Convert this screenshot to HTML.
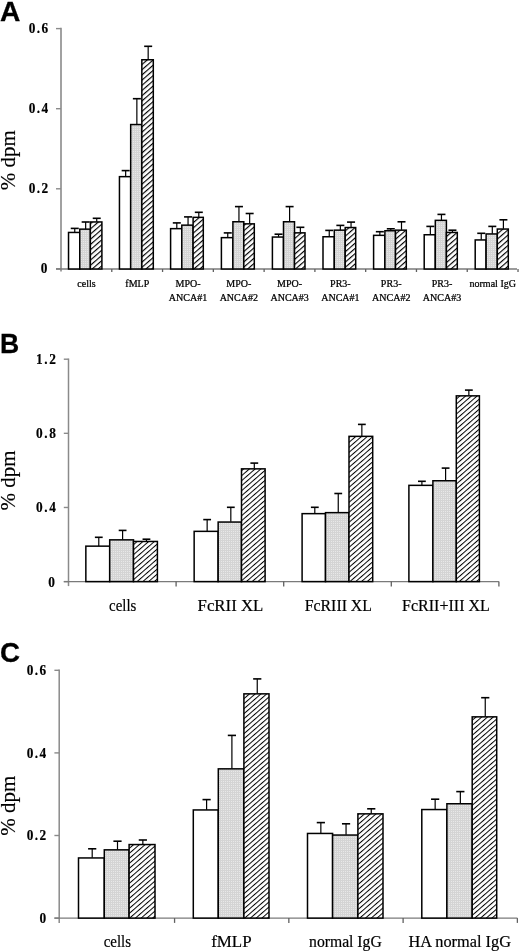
<!DOCTYPE html>
<html><head><meta charset="utf-8"><title>Figure</title>
<style>
html,body{margin:0;padding:0;background:#fff;}
body{width:520px;height:952px;position:relative;overflow:hidden;font-family:"Liberation Serif", serif;}
</style></head><body>
<svg width="520" height="952" viewBox="0 0 520 952" style="position:absolute;left:0;top:0;filter:blur(0.3px)">
<defs>
<pattern id="gA" patternUnits="userSpaceOnUse" width="2" height="2">
 <rect width="2" height="2" fill="#e8e8e8"/>
 <rect width="2" height="1" fill="#d4d4d4"/>
 <rect width="1" height="2" fill="#d4d4d4"/>
</pattern>
<pattern id="hA" patternUnits="userSpaceOnUse" width="3.924" height="10" patternTransform="rotate(49.00)">
 <rect width="10" height="10" fill="#fff"/>
 <rect width="1.15" height="10" fill="#000"/>
</pattern>
<pattern id="hB" patternUnits="userSpaceOnUse" width="3.774" height="10" patternTransform="rotate(49.00)">
 <rect width="10" height="10" fill="#fff"/>
 <rect width="1.00" height="10" fill="#000"/>
</pattern>
</defs>
<line x1="61" y1="27.8" x2="61" y2="271.5" stroke="#8a8a8a" stroke-width="1.6"/>
<line x1="56" y1="28.6" x2="61" y2="28.6" stroke="#8a8a8a" stroke-width="1.4"/>
<text transform="translate(49.6,32.5) scale(0.86,1)" text-anchor="end" font-family='"Liberation Serif", serif' font-weight="bold" font-size="15.5" letter-spacing="1.6" stroke="#000" stroke-width="0.2">0.6</text>
<line x1="56" y1="108.7" x2="61" y2="108.7" stroke="#8a8a8a" stroke-width="1.4"/>
<text transform="translate(49.6,112.6) scale(0.86,1)" text-anchor="end" font-family='"Liberation Serif", serif' font-weight="bold" font-size="15.5" letter-spacing="1.6" stroke="#000" stroke-width="0.2">0.4</text>
<line x1="56" y1="188.8" x2="61" y2="188.8" stroke="#8a8a8a" stroke-width="1.4"/>
<text transform="translate(49.6,192.7) scale(0.86,1)" text-anchor="end" font-family='"Liberation Serif", serif' font-weight="bold" font-size="15.5" letter-spacing="1.6" stroke="#000" stroke-width="0.2">0.2</text>
<line x1="56" y1="268.9" x2="61" y2="268.9" stroke="#8a8a8a" stroke-width="1.4"/>
<text transform="translate(48.7,273.3) scale(0.86,1)" text-anchor="end" font-family='"Liberation Serif", serif' font-weight="bold" font-size="15.5" letter-spacing="1.6" stroke="#000" stroke-width="0.2">0</text>
<line x1="56" y1="269" x2="517" y2="269" stroke="#7a7a7a" stroke-width="1.3"/>
<line x1="111.78" y1="269" x2="111.78" y2="272" stroke="#606060" stroke-width="1.3"/>
<line x1="162.56" y1="269" x2="162.56" y2="272" stroke="#606060" stroke-width="1.3"/>
<line x1="213.34" y1="269" x2="213.34" y2="272" stroke="#606060" stroke-width="1.3"/>
<line x1="264.12" y1="269" x2="264.12" y2="272" stroke="#606060" stroke-width="1.3"/>
<line x1="314.9" y1="269" x2="314.9" y2="272" stroke="#606060" stroke-width="1.3"/>
<line x1="365.68" y1="269" x2="365.68" y2="272" stroke="#606060" stroke-width="1.3"/>
<line x1="416.46" y1="269" x2="416.46" y2="272" stroke="#606060" stroke-width="1.3"/>
<line x1="467.24" y1="269" x2="467.24" y2="272" stroke="#606060" stroke-width="1.3"/>
<line x1="518.02" y1="269" x2="518.02" y2="272" stroke="#606060" stroke-width="1.3"/>
<rect x="68.53" y="232.45" width="11.23" height="36.55" fill="#fff" stroke="#000" stroke-width="1.5"/>
<rect x="79.76" y="229.15" width="10.6" height="39.85" fill="url(#gA)" stroke="#000" stroke-width="1.5"/>
<rect x="90.36" y="221.95" width="11.54" height="47.05" fill="url(#hA)" stroke="#000" stroke-width="1.5"/>
<line x1="74.75" y1="232.2" x2="74.75" y2="228.4" stroke="#000" stroke-width="1.2"/>
<line x1="70.75" y1="228.4" x2="78.75" y2="228.4" stroke="#000" stroke-width="1.6"/>
<line x1="85.66" y1="228.9" x2="85.66" y2="222" stroke="#000" stroke-width="1.2"/>
<line x1="81.66" y1="222" x2="89.66" y2="222" stroke="#000" stroke-width="1.6"/>
<line x1="96.73" y1="221.7" x2="96.73" y2="218.3" stroke="#000" stroke-width="1.2"/>
<line x1="92.73" y1="218.3" x2="100.73" y2="218.3" stroke="#000" stroke-width="1.6"/>
<rect x="119.45" y="176.65" width="11.23" height="92.35" fill="#fff" stroke="#000" stroke-width="1.5"/>
<rect x="130.68" y="124.55" width="11.16" height="144.45" fill="url(#gA)" stroke="#000" stroke-width="1.5"/>
<rect x="141.84" y="59.75" width="11.46" height="209.25" fill="url(#hA)" stroke="#000" stroke-width="1.5"/>
<line x1="125.66" y1="176.4" x2="125.66" y2="170.6" stroke="#000" stroke-width="1.2"/>
<line x1="121.66" y1="170.6" x2="129.66" y2="170.6" stroke="#000" stroke-width="1.6"/>
<line x1="136.86" y1="124.3" x2="136.86" y2="98.7" stroke="#000" stroke-width="1.2"/>
<line x1="132.86" y1="98.7" x2="140.86" y2="98.7" stroke="#000" stroke-width="1.6"/>
<line x1="148.17" y1="59.5" x2="148.17" y2="46.3" stroke="#000" stroke-width="1.2"/>
<line x1="144.17" y1="46.3" x2="152.17" y2="46.3" stroke="#000" stroke-width="1.6"/>
<rect x="170.6" y="228.65" width="11.2" height="40.35" fill="#fff" stroke="#000" stroke-width="1.5"/>
<rect x="181.8" y="225.15" width="11.3" height="43.85" fill="url(#gA)" stroke="#000" stroke-width="1.5"/>
<rect x="193.1" y="217.35" width="10.2" height="51.65" fill="url(#hA)" stroke="#000" stroke-width="1.5"/>
<line x1="176.8" y1="228.4" x2="176.8" y2="222.9" stroke="#000" stroke-width="1.2"/>
<line x1="172.8" y1="222.9" x2="180.8" y2="222.9" stroke="#000" stroke-width="1.6"/>
<line x1="188.05" y1="224.9" x2="188.05" y2="216.9" stroke="#000" stroke-width="1.2"/>
<line x1="184.05" y1="216.9" x2="192.05" y2="216.9" stroke="#000" stroke-width="1.6"/>
<line x1="198.8" y1="217.1" x2="198.8" y2="212.3" stroke="#000" stroke-width="1.2"/>
<line x1="194.8" y1="212.3" x2="202.8" y2="212.3" stroke="#000" stroke-width="1.6"/>
<rect x="221.4" y="237.65" width="11.5" height="31.35" fill="#fff" stroke="#000" stroke-width="1.5"/>
<rect x="232.9" y="221.75" width="10.9" height="47.25" fill="url(#gA)" stroke="#000" stroke-width="1.5"/>
<rect x="243.8" y="223.85" width="10.5" height="45.15" fill="url(#hA)" stroke="#000" stroke-width="1.5"/>
<line x1="227.75" y1="237.4" x2="227.75" y2="232.9" stroke="#000" stroke-width="1.2"/>
<line x1="223.75" y1="232.9" x2="231.75" y2="232.9" stroke="#000" stroke-width="1.6"/>
<line x1="238.95" y1="221.5" x2="238.95" y2="206.6" stroke="#000" stroke-width="1.2"/>
<line x1="234.95" y1="206.6" x2="242.95" y2="206.6" stroke="#000" stroke-width="1.6"/>
<line x1="249.65" y1="223.6" x2="249.65" y2="213.5" stroke="#000" stroke-width="1.2"/>
<line x1="245.65" y1="213.5" x2="253.65" y2="213.5" stroke="#000" stroke-width="1.6"/>
<rect x="272.4" y="237.05" width="11.1" height="31.95" fill="#fff" stroke="#000" stroke-width="1.5"/>
<rect x="283.5" y="221.75" width="11" height="47.25" fill="url(#gA)" stroke="#000" stroke-width="1.5"/>
<rect x="294.5" y="232.85" width="10.5" height="36.15" fill="url(#hA)" stroke="#000" stroke-width="1.5"/>
<line x1="278.55" y1="236.8" x2="278.55" y2="234.2" stroke="#000" stroke-width="1.2"/>
<line x1="274.55" y1="234.2" x2="282.55" y2="234.2" stroke="#000" stroke-width="1.6"/>
<line x1="289.6" y1="221.5" x2="289.6" y2="206.6" stroke="#000" stroke-width="1.2"/>
<line x1="285.6" y1="206.6" x2="293.6" y2="206.6" stroke="#000" stroke-width="1.6"/>
<line x1="300.35" y1="232.6" x2="300.35" y2="227.3" stroke="#000" stroke-width="1.2"/>
<line x1="296.35" y1="227.3" x2="304.35" y2="227.3" stroke="#000" stroke-width="1.6"/>
<rect x="323" y="236.75" width="11.3" height="32.25" fill="#fff" stroke="#000" stroke-width="1.5"/>
<rect x="334.3" y="230.15" width="10.9" height="38.85" fill="url(#gA)" stroke="#000" stroke-width="1.5"/>
<rect x="345.2" y="227.55" width="10.5" height="41.45" fill="url(#hA)" stroke="#000" stroke-width="1.5"/>
<line x1="329.25" y1="236.5" x2="329.25" y2="230.4" stroke="#000" stroke-width="1.2"/>
<line x1="325.25" y1="230.4" x2="333.25" y2="230.4" stroke="#000" stroke-width="1.6"/>
<line x1="340.35" y1="229.9" x2="340.35" y2="225.4" stroke="#000" stroke-width="1.2"/>
<line x1="336.35" y1="225.4" x2="344.35" y2="225.4" stroke="#000" stroke-width="1.6"/>
<line x1="351.05" y1="227.3" x2="351.05" y2="222.1" stroke="#000" stroke-width="1.2"/>
<line x1="347.05" y1="222.1" x2="355.05" y2="222.1" stroke="#000" stroke-width="1.6"/>
<rect x="373.6" y="235.35" width="11.3" height="33.65" fill="#fff" stroke="#000" stroke-width="1.5"/>
<rect x="384.9" y="230.75" width="10.6" height="38.25" fill="url(#gA)" stroke="#000" stroke-width="1.5"/>
<rect x="395.5" y="230.15" width="10.8" height="38.85" fill="url(#hA)" stroke="#000" stroke-width="1.5"/>
<line x1="379.85" y1="235.1" x2="379.85" y2="231.7" stroke="#000" stroke-width="1.2"/>
<line x1="375.85" y1="231.7" x2="383.85" y2="231.7" stroke="#000" stroke-width="1.6"/>
<line x1="390.8" y1="230.5" x2="390.8" y2="228.8" stroke="#000" stroke-width="1.2"/>
<line x1="386.8" y1="228.8" x2="394.8" y2="228.8" stroke="#000" stroke-width="1.6"/>
<line x1="401.5" y1="229.9" x2="401.5" y2="221.8" stroke="#000" stroke-width="1.2"/>
<line x1="397.5" y1="221.8" x2="405.5" y2="221.8" stroke="#000" stroke-width="1.6"/>
<rect x="424.2" y="234.75" width="11.1" height="34.25" fill="#fff" stroke="#000" stroke-width="1.5"/>
<rect x="435.3" y="220.35" width="11.1" height="48.65" fill="url(#gA)" stroke="#000" stroke-width="1.5"/>
<rect x="446.4" y="232.45" width="10.9" height="36.55" fill="url(#hA)" stroke="#000" stroke-width="1.5"/>
<line x1="430.35" y1="234.5" x2="430.35" y2="226.4" stroke="#000" stroke-width="1.2"/>
<line x1="426.35" y1="226.4" x2="434.35" y2="226.4" stroke="#000" stroke-width="1.6"/>
<line x1="441.45" y1="220.1" x2="441.45" y2="214.4" stroke="#000" stroke-width="1.2"/>
<line x1="437.45" y1="214.4" x2="445.45" y2="214.4" stroke="#000" stroke-width="1.6"/>
<line x1="452.45" y1="232.2" x2="452.45" y2="230.2" stroke="#000" stroke-width="1.2"/>
<line x1="448.45" y1="230.2" x2="456.45" y2="230.2" stroke="#000" stroke-width="1.6"/>
<rect x="475.2" y="239.95" width="10.9" height="29.05" fill="#fff" stroke="#000" stroke-width="1.5"/>
<rect x="486.1" y="233.95" width="11.2" height="35.05" fill="url(#gA)" stroke="#000" stroke-width="1.5"/>
<rect x="497.3" y="229.05" width="11" height="39.95" fill="url(#hA)" stroke="#000" stroke-width="1.5"/>
<line x1="481.25" y1="239.7" x2="481.25" y2="233.3" stroke="#000" stroke-width="1.2"/>
<line x1="477.25" y1="233.3" x2="485.25" y2="233.3" stroke="#000" stroke-width="1.6"/>
<line x1="492.3" y1="233.7" x2="492.3" y2="226.4" stroke="#000" stroke-width="1.2"/>
<line x1="488.3" y1="226.4" x2="496.3" y2="226.4" stroke="#000" stroke-width="1.6"/>
<line x1="503.4" y1="228.8" x2="503.4" y2="219.8" stroke="#000" stroke-width="1.2"/>
<line x1="499.4" y1="219.8" x2="507.4" y2="219.8" stroke="#000" stroke-width="1.6"/>
<text transform="translate(86.5,287.1) scale(1.035,1)" text-anchor="middle" font-family='"Liberation Serif", serif' font-size="9.7" stroke="#000" stroke-width="0.25">cells</text>
<text transform="translate(137.28,287.1) scale(1.035,1)" text-anchor="middle" font-family='"Liberation Serif", serif' font-size="9.7" stroke="#000" stroke-width="0.25">fMLP</text>
<text transform="translate(188.06,287.1) scale(1.035,1)" text-anchor="middle" font-family='"Liberation Serif", serif' font-size="9.7" stroke="#000" stroke-width="0.25">MPO-</text>
<text transform="translate(188.06,301.2) scale(1.035,1)" text-anchor="middle" font-family='"Liberation Serif", serif' font-size="9.7" stroke="#000" stroke-width="0.25">ANCA#1</text>
<text transform="translate(238.84,287.1) scale(1.035,1)" text-anchor="middle" font-family='"Liberation Serif", serif' font-size="9.7" stroke="#000" stroke-width="0.25">MPO-</text>
<text transform="translate(238.84,301.2) scale(1.035,1)" text-anchor="middle" font-family='"Liberation Serif", serif' font-size="9.7" stroke="#000" stroke-width="0.25">ANCA#2</text>
<text transform="translate(289.62,287.1) scale(1.035,1)" text-anchor="middle" font-family='"Liberation Serif", serif' font-size="9.7" stroke="#000" stroke-width="0.25">MPO-</text>
<text transform="translate(289.62,301.2) scale(1.035,1)" text-anchor="middle" font-family='"Liberation Serif", serif' font-size="9.7" stroke="#000" stroke-width="0.25">ANCA#3</text>
<text transform="translate(340.4,287.1) scale(1.035,1)" text-anchor="middle" font-family='"Liberation Serif", serif' font-size="9.7" stroke="#000" stroke-width="0.25">PR3-</text>
<text transform="translate(340.4,301.2) scale(1.035,1)" text-anchor="middle" font-family='"Liberation Serif", serif' font-size="9.7" stroke="#000" stroke-width="0.25">ANCA#1</text>
<text transform="translate(391.18,287.1) scale(1.035,1)" text-anchor="middle" font-family='"Liberation Serif", serif' font-size="9.7" stroke="#000" stroke-width="0.25">PR3-</text>
<text transform="translate(391.18,301.2) scale(1.035,1)" text-anchor="middle" font-family='"Liberation Serif", serif' font-size="9.7" stroke="#000" stroke-width="0.25">ANCA#2</text>
<text transform="translate(441.96,287.1) scale(1.035,1)" text-anchor="middle" font-family='"Liberation Serif", serif' font-size="9.7" stroke="#000" stroke-width="0.25">PR3-</text>
<text transform="translate(441.96,301.2) scale(1.035,1)" text-anchor="middle" font-family='"Liberation Serif", serif' font-size="9.7" stroke="#000" stroke-width="0.25">ANCA#3</text>
<text transform="translate(492.74,287.1) scale(1.035,1)" text-anchor="middle" font-family='"Liberation Serif", serif' font-size="9.7" stroke="#000" stroke-width="0.25">normal IgG</text>
<text transform="translate(15.2,160.3) rotate(-90)" text-anchor="middle" font-family='"Liberation Serif", serif' font-size="21" stroke="#000" stroke-width="0.15">% dpm</text>
<text x="0.1" y="20.9" font-family='"Liberation Sans", sans-serif' font-weight="bold" font-size="28.2" stroke="#000" stroke-width="0.3">A</text>
<line x1="68.5" y1="358.5" x2="68.5" y2="586.1" stroke="#8a8a8a" stroke-width="1.5"/>
<line x1="63.8" y1="359.2" x2="68.5" y2="359.2" stroke="#8a8a8a" stroke-width="1.4"/>
<text transform="translate(57.4,364.2) scale(0.86,1)" text-anchor="end" font-family='"Liberation Serif", serif' font-weight="bold" font-size="15.5" letter-spacing="1.8" stroke="#000" stroke-width="0.2">1.2</text>
<line x1="63.8" y1="433.33" x2="68.5" y2="433.33" stroke="#8a8a8a" stroke-width="1.4"/>
<text transform="translate(57.4,438.33) scale(0.86,1)" text-anchor="end" font-family='"Liberation Serif", serif' font-weight="bold" font-size="15.5" letter-spacing="1.8" stroke="#000" stroke-width="0.2">0.8</text>
<line x1="63.8" y1="507.47" x2="68.5" y2="507.47" stroke="#8a8a8a" stroke-width="1.4"/>
<text transform="translate(57.4,512.47) scale(0.86,1)" text-anchor="end" font-family='"Liberation Serif", serif' font-weight="bold" font-size="15.5" letter-spacing="1.8" stroke="#000" stroke-width="0.2">0.4</text>
<line x1="63.8" y1="581.6" x2="68.5" y2="581.6" stroke="#8a8a8a" stroke-width="1.4"/>
<text transform="translate(56.4,586.6) scale(0.86,1)" text-anchor="end" font-family='"Liberation Serif", serif' font-weight="bold" font-size="15.5" letter-spacing="1.8" stroke="#000" stroke-width="0.2">0</text>
<line x1="63.8" y1="581.6" x2="498.9" y2="581.6" stroke="#7a7a7a" stroke-width="1.3"/>
<line x1="176.1" y1="581.6" x2="176.1" y2="586.6" stroke="#606060" stroke-width="1.3"/>
<line x1="283.7" y1="581.6" x2="283.7" y2="586.6" stroke="#606060" stroke-width="1.3"/>
<line x1="391.3" y1="581.6" x2="391.3" y2="586.6" stroke="#606060" stroke-width="1.3"/>
<line x1="498.9" y1="581.6" x2="498.9" y2="586.6" stroke="#606060" stroke-width="1.3"/>
<rect x="85.85" y="546.15" width="23.85" height="35.45" fill="#fff" stroke="#000" stroke-width="1.5"/>
<rect x="109.7" y="539.85" width="23.8" height="41.75" fill="url(#gA)" stroke="#000" stroke-width="1.5"/>
<rect x="133.5" y="541.45" width="23.9" height="40.15" fill="url(#hB)" stroke="#000" stroke-width="1.5"/>
<line x1="98.78" y1="545.9" x2="98.78" y2="537.3" stroke="#000" stroke-width="1.2"/>
<line x1="94.88" y1="537.3" x2="102.68" y2="537.3" stroke="#000" stroke-width="1.6"/>
<line x1="122.6" y1="539.6" x2="122.6" y2="530.4" stroke="#000" stroke-width="1.2"/>
<line x1="118.7" y1="530.4" x2="126.5" y2="530.4" stroke="#000" stroke-width="1.6"/>
<line x1="146.45" y1="541.2" x2="146.45" y2="539.2" stroke="#000" stroke-width="1.2"/>
<line x1="142.55" y1="539.2" x2="150.35" y2="539.2" stroke="#000" stroke-width="1.6"/>
<rect x="194.15" y="531.35" width="24" height="50.25" fill="#fff" stroke="#000" stroke-width="1.5"/>
<rect x="218.15" y="522.05" width="23.35" height="59.55" fill="url(#gA)" stroke="#000" stroke-width="1.5"/>
<rect x="241.5" y="468.85" width="23.6" height="112.75" fill="url(#hB)" stroke="#000" stroke-width="1.5"/>
<line x1="207.15" y1="531.1" x2="207.15" y2="519.6" stroke="#000" stroke-width="1.2"/>
<line x1="203.25" y1="519.6" x2="211.05" y2="519.6" stroke="#000" stroke-width="1.6"/>
<line x1="230.82" y1="521.8" x2="230.82" y2="507.3" stroke="#000" stroke-width="1.2"/>
<line x1="226.92" y1="507.3" x2="234.72" y2="507.3" stroke="#000" stroke-width="1.6"/>
<line x1="254.3" y1="468.6" x2="254.3" y2="463.1" stroke="#000" stroke-width="1.2"/>
<line x1="250.4" y1="463.1" x2="258.2" y2="463.1" stroke="#000" stroke-width="1.6"/>
<rect x="302.1" y="513.65" width="23.4" height="67.95" fill="#fff" stroke="#000" stroke-width="1.5"/>
<rect x="325.5" y="512.65" width="23.5" height="68.95" fill="url(#gA)" stroke="#000" stroke-width="1.5"/>
<rect x="349" y="436.35" width="23.7" height="145.25" fill="url(#hB)" stroke="#000" stroke-width="1.5"/>
<line x1="314.8" y1="513.4" x2="314.8" y2="507.3" stroke="#000" stroke-width="1.2"/>
<line x1="310.9" y1="507.3" x2="318.7" y2="507.3" stroke="#000" stroke-width="1.6"/>
<line x1="338.25" y1="512.4" x2="338.25" y2="493.5" stroke="#000" stroke-width="1.2"/>
<line x1="334.35" y1="493.5" x2="342.15" y2="493.5" stroke="#000" stroke-width="1.6"/>
<line x1="361.85" y1="436.1" x2="361.85" y2="424.4" stroke="#000" stroke-width="1.2"/>
<line x1="357.95" y1="424.4" x2="365.75" y2="424.4" stroke="#000" stroke-width="1.6"/>
<rect x="408.9" y="485.35" width="24" height="96.25" fill="#fff" stroke="#000" stroke-width="1.5"/>
<rect x="432.9" y="480.75" width="23.4" height="100.85" fill="url(#gA)" stroke="#000" stroke-width="1.5"/>
<rect x="456.3" y="395.85" width="23.1" height="185.75" fill="url(#hB)" stroke="#000" stroke-width="1.5"/>
<line x1="421.9" y1="485.1" x2="421.9" y2="481.3" stroke="#000" stroke-width="1.2"/>
<line x1="418" y1="481.3" x2="425.8" y2="481.3" stroke="#000" stroke-width="1.6"/>
<line x1="445.6" y1="480.5" x2="445.6" y2="468.1" stroke="#000" stroke-width="1.2"/>
<line x1="441.7" y1="468.1" x2="449.5" y2="468.1" stroke="#000" stroke-width="1.6"/>
<line x1="468.85" y1="395.6" x2="468.85" y2="390.1" stroke="#000" stroke-width="1.2"/>
<line x1="464.95" y1="390.1" x2="472.75" y2="390.1" stroke="#000" stroke-width="1.6"/>
<text transform="translate(122.7,610.6) scale(0.93,1)" text-anchor="middle" font-family='"Liberation Serif", serif' font-size="16" stroke="#000" stroke-width="0.2">cells</text>
<text transform="translate(230.45,610.6) scale(1.05,1)" text-anchor="middle" font-family='"Liberation Serif", serif' font-size="16" stroke="#000" stroke-width="0.2">FcRII XL</text>
<text transform="translate(338.35,610.6) scale(0.99,1)" text-anchor="middle" font-family='"Liberation Serif", serif' font-size="16" stroke="#000" stroke-width="0.2">FcRIII XL</text>
<text transform="translate(445.95,610.6) scale(1,1)" text-anchor="middle" font-family='"Liberation Serif", serif' font-size="16" stroke="#000" stroke-width="0.2">FcRII+III XL</text>
<text transform="translate(15.2,480.4) rotate(-90)" text-anchor="middle" font-family='"Liberation Serif", serif' font-size="21" stroke="#000" stroke-width="0.15">% dpm</text>
<text transform="translate(0,353.1) scale(0.95,1)" font-family='"Liberation Sans", sans-serif' font-weight="bold" font-size="28" stroke="#000" stroke-width="0.3">B</text>
<line x1="59.2" y1="669.6" x2="59.2" y2="923.1" stroke="#8a8a8a" stroke-width="1.5"/>
<line x1="54.4" y1="670.3" x2="59.2" y2="670.3" stroke="#8a8a8a" stroke-width="1.4"/>
<text transform="translate(47.6,675.1) scale(0.86,1)" text-anchor="end" font-family='"Liberation Serif", serif' font-weight="bold" font-size="15.5" letter-spacing="1.6" stroke="#000" stroke-width="0.2">0.6</text>
<line x1="54.4" y1="752.9" x2="59.2" y2="752.9" stroke="#8a8a8a" stroke-width="1.4"/>
<text transform="translate(47.6,757.7) scale(0.86,1)" text-anchor="end" font-family='"Liberation Serif", serif' font-weight="bold" font-size="15.5" letter-spacing="1.6" stroke="#000" stroke-width="0.2">0.4</text>
<line x1="54.4" y1="835.5" x2="59.2" y2="835.5" stroke="#8a8a8a" stroke-width="1.4"/>
<text transform="translate(47.6,840.3) scale(0.86,1)" text-anchor="end" font-family='"Liberation Serif", serif' font-weight="bold" font-size="15.5" letter-spacing="1.6" stroke="#000" stroke-width="0.2">0.2</text>
<line x1="54.4" y1="918.1" x2="59.2" y2="918.1" stroke="#8a8a8a" stroke-width="1.4"/>
<text transform="translate(47.6,922.9) scale(0.86,1)" text-anchor="end" font-family='"Liberation Serif", serif' font-weight="bold" font-size="15.5" letter-spacing="1.6" stroke="#000" stroke-width="0.2">0</text>
<line x1="54.4" y1="918.1" x2="517.4" y2="918.1" stroke="#7a7a7a" stroke-width="1.3"/>
<line x1="174.57" y1="918.1" x2="174.57" y2="922.9" stroke="#606060" stroke-width="1.3"/>
<line x1="288.84" y1="918.1" x2="288.84" y2="922.9" stroke="#606060" stroke-width="1.3"/>
<line x1="403.11" y1="918.1" x2="403.11" y2="922.9" stroke="#606060" stroke-width="1.3"/>
<line x1="517.38" y1="918.1" x2="517.38" y2="922.9" stroke="#606060" stroke-width="1.3"/>
<rect x="78.5" y="857.95" width="25.8" height="60.15" fill="#fff" stroke="#000" stroke-width="1.5"/>
<rect x="104.3" y="849.85" width="24.8" height="68.25" fill="url(#gA)" stroke="#000" stroke-width="1.5"/>
<rect x="129.1" y="844.55" width="25.9" height="73.55" fill="url(#hB)" stroke="#000" stroke-width="1.5"/>
<line x1="92.2" y1="857.7" x2="92.2" y2="848.8" stroke="#000" stroke-width="1.2"/>
<line x1="88.1" y1="848.8" x2="96.3" y2="848.8" stroke="#000" stroke-width="1.6"/>
<line x1="117.5" y1="849.6" x2="117.5" y2="841.2" stroke="#000" stroke-width="1.2"/>
<line x1="113.4" y1="841.2" x2="121.6" y2="841.2" stroke="#000" stroke-width="1.6"/>
<line x1="142.85" y1="844.3" x2="142.85" y2="840" stroke="#000" stroke-width="1.2"/>
<line x1="138.75" y1="840" x2="146.95" y2="840" stroke="#000" stroke-width="1.6"/>
<rect x="193.3" y="809.95" width="25" height="108.15" fill="#fff" stroke="#000" stroke-width="1.5"/>
<rect x="218.3" y="768.85" width="25.6" height="149.25" fill="url(#gA)" stroke="#000" stroke-width="1.5"/>
<rect x="243.9" y="693.85" width="25.1" height="224.25" fill="url(#hB)" stroke="#000" stroke-width="1.5"/>
<line x1="206.6" y1="809.7" x2="206.6" y2="799.6" stroke="#000" stroke-width="1.2"/>
<line x1="202.5" y1="799.6" x2="210.7" y2="799.6" stroke="#000" stroke-width="1.6"/>
<line x1="231.9" y1="768.6" x2="231.9" y2="735.4" stroke="#000" stroke-width="1.2"/>
<line x1="227.8" y1="735.4" x2="236" y2="735.4" stroke="#000" stroke-width="1.6"/>
<line x1="257.25" y1="693.6" x2="257.25" y2="678.9" stroke="#000" stroke-width="1.2"/>
<line x1="253.15" y1="678.9" x2="261.35" y2="678.9" stroke="#000" stroke-width="1.6"/>
<rect x="307.5" y="833.45" width="25.1" height="84.65" fill="#fff" stroke="#000" stroke-width="1.5"/>
<rect x="332.6" y="835.05" width="25.3" height="83.05" fill="url(#gA)" stroke="#000" stroke-width="1.5"/>
<rect x="357.9" y="813.85" width="25.1" height="104.25" fill="url(#hB)" stroke="#000" stroke-width="1.5"/>
<line x1="320.85" y1="833.2" x2="320.85" y2="822.6" stroke="#000" stroke-width="1.2"/>
<line x1="316.75" y1="822.6" x2="324.95" y2="822.6" stroke="#000" stroke-width="1.6"/>
<line x1="346.05" y1="834.8" x2="346.05" y2="823.8" stroke="#000" stroke-width="1.2"/>
<line x1="341.95" y1="823.8" x2="350.15" y2="823.8" stroke="#000" stroke-width="1.6"/>
<line x1="371.25" y1="813.6" x2="371.25" y2="808.8" stroke="#000" stroke-width="1.2"/>
<line x1="367.15" y1="808.8" x2="375.35" y2="808.8" stroke="#000" stroke-width="1.6"/>
<rect x="421.8" y="809.55" width="25.1" height="108.55" fill="#fff" stroke="#000" stroke-width="1.5"/>
<rect x="446.9" y="803.75" width="25.3" height="114.35" fill="url(#gA)" stroke="#000" stroke-width="1.5"/>
<rect x="472.2" y="716.85" width="24.5" height="201.25" fill="url(#hB)" stroke="#000" stroke-width="1.5"/>
<line x1="435.15" y1="809.3" x2="435.15" y2="799.2" stroke="#000" stroke-width="1.2"/>
<line x1="431.05" y1="799.2" x2="439.25" y2="799.2" stroke="#000" stroke-width="1.6"/>
<line x1="460.35" y1="803.5" x2="460.35" y2="791.6" stroke="#000" stroke-width="1.2"/>
<line x1="456.25" y1="791.6" x2="464.45" y2="791.6" stroke="#000" stroke-width="1.6"/>
<line x1="485.25" y1="716.6" x2="485.25" y2="697.7" stroke="#000" stroke-width="1.2"/>
<line x1="481.15" y1="697.7" x2="489.35" y2="697.7" stroke="#000" stroke-width="1.6"/>
<text transform="translate(117.3,946.8) scale(0.93,1)" text-anchor="middle" font-family='"Liberation Serif", serif' font-size="16" stroke="#000" stroke-width="0.2">cells</text>
<text transform="translate(231.4,946.8) scale(1.06,1)" text-anchor="middle" font-family='"Liberation Serif", serif' font-size="16" stroke="#000" stroke-width="0.2">fMLP</text>
<text transform="translate(345.4,946.8) scale(0.98,1)" text-anchor="middle" font-family='"Liberation Serif", serif' font-size="16" stroke="#000" stroke-width="0.2">normal IgG</text>
<text transform="translate(459.75,946.8) scale(1.02,1)" text-anchor="middle" font-family='"Liberation Serif", serif' font-size="16" stroke="#000" stroke-width="0.2">HA normal IgG</text>
<text transform="translate(15,805.6) rotate(-90)" text-anchor="middle" font-family='"Liberation Serif", serif' font-size="21" stroke="#000" stroke-width="0.15">% dpm</text>
<text transform="translate(-0.1,661.7) scale(0.99,1)" font-family='"Liberation Sans", sans-serif' font-weight="bold" font-size="28" stroke="#000" stroke-width="0.3">C</text>
</svg>
</body></html>
